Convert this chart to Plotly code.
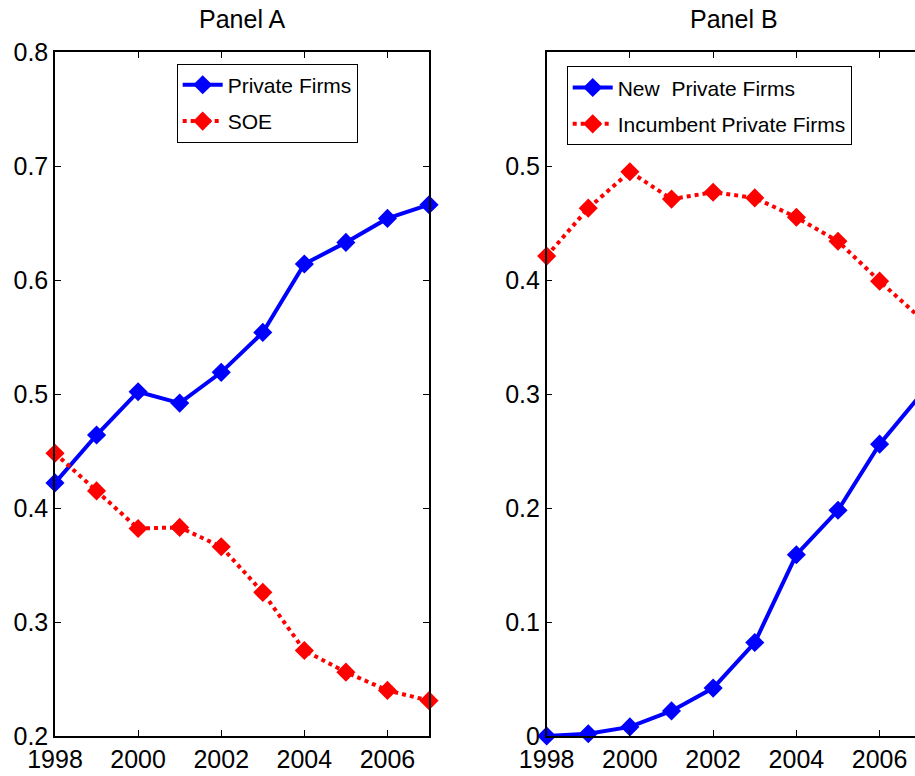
import plotly.graph_objects as go

years = [1998, 1999, 2000, 2001, 2002, 2003, 2004, 2005, 2006, 2007]

# Panel A
private_firms = [0.422, 0.464, 0.502, 0.492, 0.519, 0.554, 0.614, 0.633, 0.654, 0.666]
soe = [0.448, 0.415, 0.382, 0.383, 0.366, 0.326, 0.275, 0.256, 0.240, 0.231]

# Panel B
new_private = [0.000, 0.002, 0.008, 0.022, 0.042, 0.082, 0.159, 0.198, 0.256, 0.300]
incumbent_private = [0.421, 0.463, 0.495, 0.471, 0.477, 0.472, 0.455, 0.434, 0.399, 0.366]

xticks = [1998, 2000, 2002, 2004, 2006]
yticks_a = [0.2, 0.3, 0.4, 0.5, 0.6, 0.7, 0.8]
yticks_b = [0, 0.1, 0.2, 0.3, 0.4, 0.5]
yticklabels_b = ["0", "0.1", "0.2", "0.3", "0.4", "0.5"]

FONT = "Liberation Sans, Arial, Helvetica, sans-serif"
BLUE = "#0000ff"
RED = "#ff0000"

fig = go.Figure()

def add(x, y, name, color, dash, xa, ya, legend):
    fig.add_trace(go.Scatter(
        x=x, y=y, name=name, mode="lines+markers",
        line=dict(color=color, width=4, dash=dash),
        marker=dict(symbol="diamond", size=12, color=color,
                    line=dict(color=color, width=2.5)),
        xaxis=xa, yaxis=ya, legend=legend, legendgroup=name,
        cliponaxis=False,
    ))

add(years, private_firms, "Private Firms", BLUE, "solid", "x", "y", "legend")
add(years, soe, "SOE", RED, "dot", "x", "y", "legend")
add(years, new_private, "New  Private Firms", BLUE, "solid", "x2", "y2", "legend2")
add(years, incumbent_private, "Incumbent Private Firms", RED, "dot", "x2", "y2", "legend2")

axis_common = dict(
    showline=True, linecolor="black", linewidth=1.5,
    ticks="inside", ticklen=6, tickcolor="black", tickwidth=1,
    showgrid=False, zeroline=False,
    tickfont=dict(family=FONT, size=25, color="black"),
    automargin=False,
)

legend_common = dict(
    xanchor="left", yanchor="top",
    bordercolor="black", borderwidth=1, bgcolor="white",
    font=dict(family=FONT, size=21, color="black"),
    tracegroupgap=6, itemwidth=40,
)

fig.update_layout(
    width=915, height=776,
    margin=dict(l=55, r=0, t=52, b=40),
    paper_bgcolor="white", plot_bgcolor="white",
    font=dict(family=FONT, color="black"),
    xaxis=dict(domain=[0, 0.4349], range=[1998, 2007], tickvals=xticks,
               mirror="ticks", anchor="y", **axis_common),
    yaxis=dict(domain=[0, 1], range=[0.2, 0.8], tickvals=yticks_a,
               tickformat=".1f", mirror="ticks", anchor="x", **axis_common),
    xaxis2=dict(domain=[0.5717, 1], range=[1998, 2006.85], tickvals=xticks,
                mirror="ticks", anchor="y2", **axis_common),
    yaxis2=dict(domain=[0, 1], range=[0, 0.6], tickvals=yticks_b,
                ticktext=yticklabels_b, mirror=False, anchor="x2", **axis_common),
    legend=dict(x=0.1415, y=0.983, **legend_common),
    legend2=dict(x=0.595, y=0.979, **legend_common),
    annotations=[
        dict(text="Panel A", xref="x", x=2002.5, yref="paper", y=1,
             yanchor="middle", yshift=33, showarrow=False,
             font=dict(family=FONT, size=25, color="black")),
        dict(text="Panel B", xref="x2", x=2002.5, yref="paper", y=1,
             yanchor="middle", yshift=33, showarrow=False,
             font=dict(family=FONT, size=25, color="black")),
    ],
)

fig.write_html(
    "out.html",
    config={"displayModeBar": False},
    post_script="document.body.style.margin='0';document.body.style.overflow='hidden';",
)
